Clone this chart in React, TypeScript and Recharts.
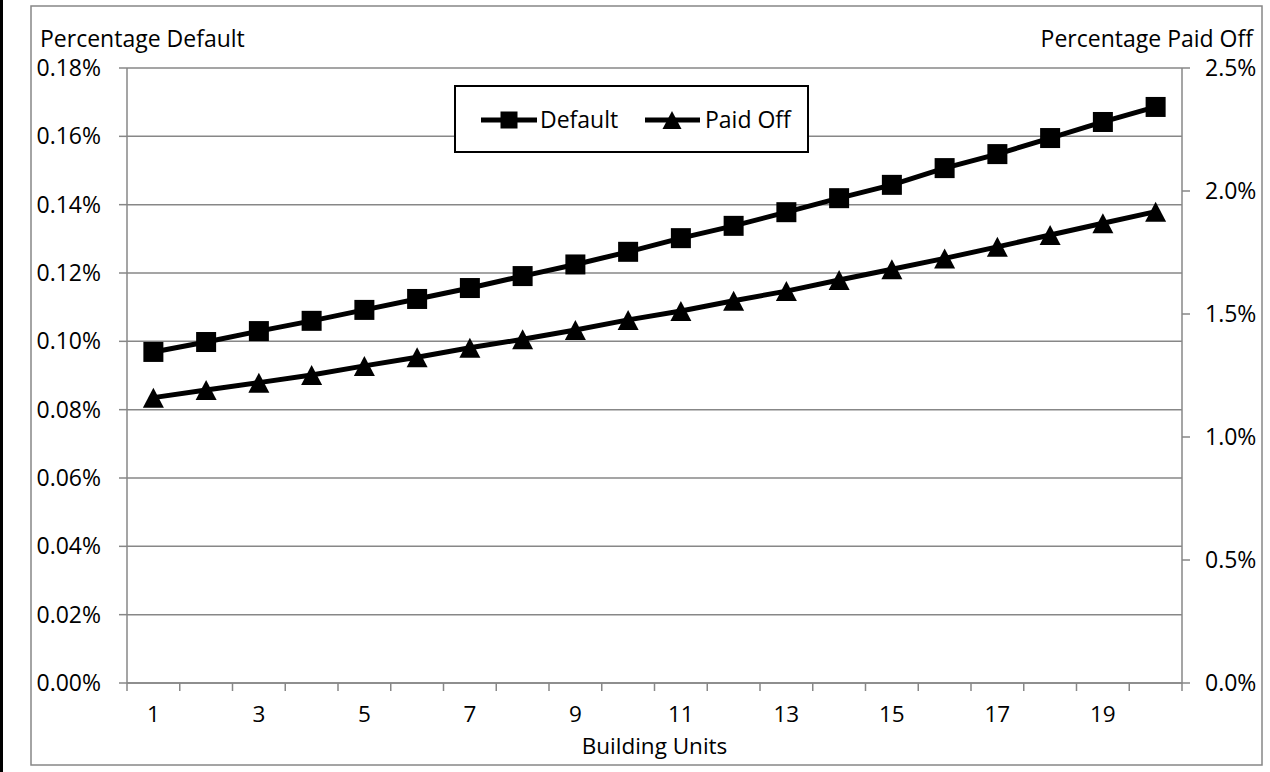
import React from 'react';
import { LineChart, Line, XAxis, YAxis, CartesianGrid } from 'recharts';

const units: number[] = [1, 2, 3, 4, 5, 6, 7, 8, 9, 10, 11, 12, 13, 14, 15, 16, 17, 18, 19, 20];
const defaultPct: number[] = [
  0.0969, 0.0998, 0.103, 0.106, 0.1092, 0.1124, 0.1156, 0.1191, 0.1225, 0.1262,
  0.1302, 0.1338, 0.1378, 0.1419, 0.1458, 0.1507, 0.1548, 0.1595, 0.1642, 0.1686,
];
const paidOffPct: number[] = [
  1.16, 1.191, 1.221, 1.252, 1.289, 1.324, 1.363, 1.397, 1.435, 1.476,
  1.512, 1.554, 1.593, 1.638, 1.682, 1.726, 1.773, 1.821, 1.869, 1.916,
];
const leftTicks: number[] = [0, 0.02, 0.04, 0.06, 0.08, 0.1, 0.12, 0.14, 0.16, 0.18];
const rightTicks: number[] = [0, 0.5, 1, 1.5, 2, 2.5];
const xLabelTicks: number[] = [1, 3, 5, 7, 9, 11, 13, 15, 17, 19];
const xBoundaryTicks: number[] = [
  0.5, 1.5, 2.5, 3.5, 4.5, 5.5, 6.5, 7.5, 8.5, 9.5, 10.5,
  11.5, 12.5, 13.5, 14.5, 15.5, 16.5, 17.5, 18.5, 19.5, 20.5,
];
const xAllTicks: number[] = [...xBoundaryTicks, ...xLabelTicks].sort((a, b) => a - b);

const data = units.map((u, i) => ({ x: u, def: defaultPct[i], paid: paidOffPct[i] }));

const FONT = '"Open Sans", "Noto Sans", sans-serif';
const GRID = '#878787';

const XTick = (props: any) => {
  const { x, y, payload } = props;
  const v = payload.value as number;
  if (Math.abs(v - Math.round(v)) > 0.01) {
    return <line x1={x} x2={x} y1={y} y2={y + 8} stroke={GRID} strokeWidth={1.5} />;
  }
  if (!xLabelTicks.includes(v)) return <g />;
  return (
    <text x={x} y={y + 39} textAnchor="middle" fill="#000" fontSize={22.5} fontFamily={FONT}>
      {v}
    </text>
  );
};

const SquareDot = (props: any) => {
  const { cx, cy, index } = props;
  if (cx == null || cy == null) return <g key={`sq${index}`} />;
  return <rect key={`sq${index}`} x={cx - 10} y={cy - 10} width={20} height={20} fill="#000" />;
};

const TriDot = (props: any) => {
  const { cx, cy, index } = props;
  if (cx == null || cy == null) return <g key={`tr${index}`} />;
  return (
    <polygon
      key={`tr${index}`}
      points={`${cx},${cy - 10} ${cx - 10.5},${cy + 10} ${cx + 10.5},${cy + 10}`}
      fill="#000"
    />
  );
};

export default function App() {
  return (
    <div style={{ position: 'fixed', left: 0, top: 0, width: 1270, height: 772, background: '#fff' }}>
      <svg width={1270} height={772} style={{ position: 'absolute', left: 0, top: 0 }}>
        <rect x={0} y={0} width={3} height={772} fill="#000" />
        <rect x={31} y={6} width={1231} height={759} fill="none" stroke={GRID} strokeWidth={1.5} />
        <text x={40} y={47} fontSize={23} fontFamily={FONT} fill="#000">Percentage Default</text>
        <text x={1253} y={47} fontSize={23} fontFamily={FONT} fill="#000" textAnchor="end">Percentage Paid Off</text>
      </svg>
      <div style={{ position: 'absolute', left: 0, top: 0 }}>
        <LineChart width={1270} height={772} data={data} margin={{ top: 68, right: 0, bottom: 0, left: 0 }}>
          <CartesianGrid yAxisId="left" vertical={false} stroke={GRID} strokeWidth={1.5} horizontalValues={leftTicks} />
          <XAxis
            dataKey="x"
            type="number"
            domain={[0.5, 20.5]}
            ticks={xAllTicks}
            interval={0}
            tick={<XTick />}
            tickLine={false}
            tickSize={0}
            tickMargin={0}
            height={89}
            axisLine={{ stroke: GRID, strokeWidth: 1.5 }}
            label={{ value: 'Building Units', position: 'insideBottom', offset: 18, fill: '#000', fontSize: 22.5, fontFamily: FONT }}
          />
          <YAxis
            yAxisId="left"
            orientation="left"
            width={127}
            domain={[0, 0.18]}
            ticks={leftTicks}
            interval={0}
            tickFormatter={(v: number) => v.toFixed(2) + '%'}
            tick={{ fill: '#000', fontSize: 23, fontFamily: FONT }}
            tickSize={8}
            tickMargin={18}
            tickLine={{ stroke: GRID, strokeWidth: 1.5 }}
            axisLine={{ stroke: GRID, strokeWidth: 1.5 }}
          />
          <YAxis
            yAxisId="right"
            orientation="right"
            width={88}
            domain={[0, 2.5]}
            ticks={rightTicks}
            interval={0}
            tickFormatter={(v: number) => v.toFixed(1) + '%'}
            tick={{ fill: '#000', fontSize: 23, fontFamily: FONT, textAnchor: 'start' }}
            tickSize={8}
            tickMargin={15}
            tickLine={{ stroke: GRID, strokeWidth: 1.5 }}
            axisLine={{ stroke: GRID, strokeWidth: 1.5 }}
          />
          <Line
            yAxisId="left"
            dataKey="def"
            name="Default"
            stroke="#000"
            strokeWidth={5}
            dot={SquareDot}
            activeDot={false}
            isAnimationActive={false}
          />
          <Line
            yAxisId="right"
            dataKey="paid"
            name="Paid Off"
            stroke="#000"
            strokeWidth={5}
            dot={TriDot}
            activeDot={false}
            isAnimationActive={false}
          />
        </LineChart>
      </div>
      <div
        style={{
          position: 'absolute',
          left: 454,
          top: 85,
          width: 355,
          height: 68,
          boxSizing: 'border-box',
          border: '2px solid #000',
          background: '#fff',
        }}
      >
        <svg width={351} height={64} style={{ position: 'absolute', left: 0, top: 0 }}>
          <line x1={25} x2={81} y1={33} y2={33} stroke="#000" strokeWidth={5} />
          <rect x={44.5} y={24.5} width={17} height={17} fill="#000" />
          <text x={84} y={41} fontSize={23} fontFamily={FONT} fill="#000">Default</text>
          <line x1={189} x2={244} y1={33} y2={33} stroke="#000" strokeWidth={5} />
          <polygon points="216,24 206.5,42 225.5,42" fill="#000" />
          <text x={249} y={41} fontSize={23} fontFamily={FONT} fill="#000">Paid Off</text>
        </svg>
      </div>
    </div>
  );
}
